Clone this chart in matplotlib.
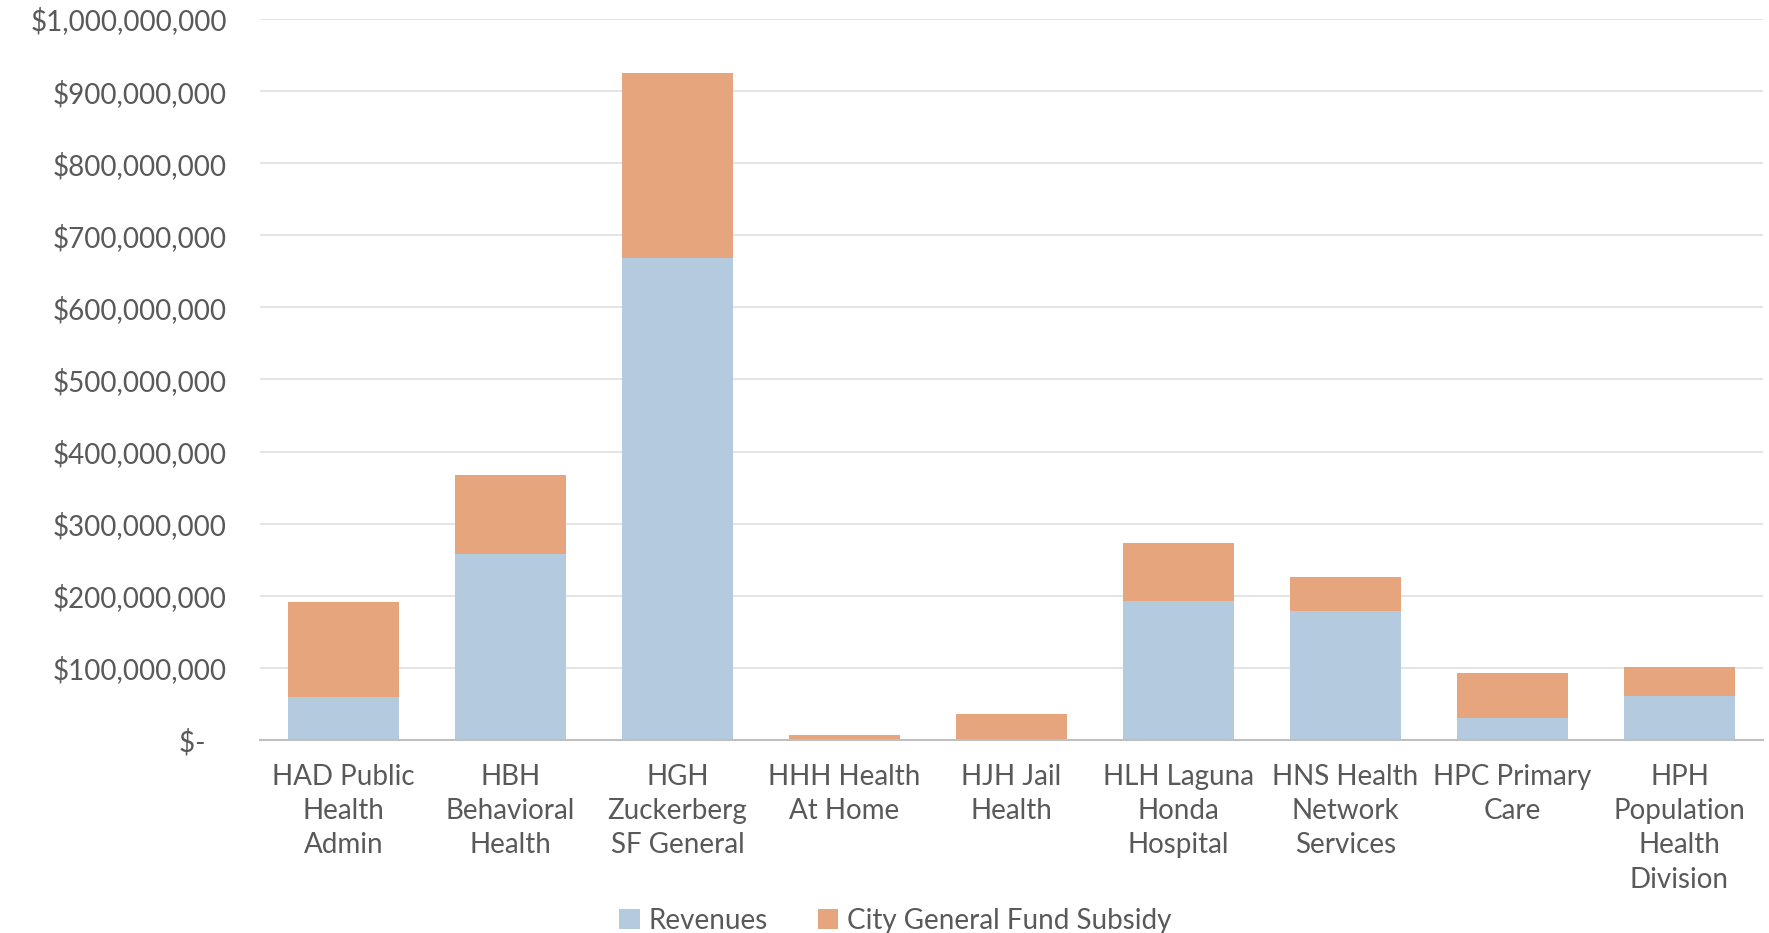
import matplotlib.pyplot as plt
from matplotlib.ticker import FuncFormatter

# Data
categories = ["HAD Public\nHealth\nAdmin", "HBH\nBehavioral\nHealth", "HGH\nZuckerberg\nSF General",
              "HHH Health\nAt Home", "HJH Jail\nHealth", "HLH Laguna\nHonda\nHospital",
              "HNS Health\nNetwork\nServices", "HPC Primary\nCare", "HPH\nPopulation\nHealth\nDivision"]
revenues = [59e6, 257.5e6, 668e6, 2e6, 0.5e6, 193e6, 178.5e6, 31e6, 60.5e6]
subsidy = [133e6, 110e6, 257e6, 5.5e6, 35e6, 80e6, 47.5e6, 62.5e6, 40.5e6]

BLUE = "#B4CBDF"
ORANGE = "#E6A57D"
GRAY = "#595959"

plt.rcParams['font.family'] = ['Lato', 'DejaVu Sans']

fig = plt.figure(figsize=(17.69, 9.33), dpi=100)
ax = fig.add_axes([0.147, 0.2069, 0.8496, 0.7727])

x = range(len(categories))
ax.bar(x, revenues, width=0.67, color=BLUE, label="Revenues", zorder=2)
ax.bar(x, subsidy, width=0.67, bottom=revenues, color=ORANGE,
       label="City General Fund Subsidy", zorder=2)

ax.set_ylim(0, 1e9)
ax.set_xlim(-0.5, len(categories) - 0.5)
ax.set_yticks([i * 1e8 for i in range(11)])


def fmt(v, pos):
    if v == 0:
        return "$-   "
    return "${:,.0f}".format(v)


ax.yaxis.set_major_formatter(FuncFormatter(fmt))
ax.set_xticks(list(x))
ax.set_xticklabels(categories, linespacing=1.4)

ax.tick_params(axis='both', length=0, labelsize=20, labelcolor=GRAY)
ax.tick_params(axis='y', pad=24)
ax.tick_params(axis='x', pad=17)

ax.grid(axis='y', color='#E3E3E3', linewidth=1.3, zorder=0)
for s in ['top', 'right', 'left']:
    ax.spines[s].set_visible(False)
ax.spines['bottom'].set_color('#BFBFBF')
ax.spines['bottom'].set_linewidth(1.5)

fig.legend(loc='center', bbox_to_anchor=(0.506, 0.013), ncol=2, frameon=False,
           fontsize=20, labelcolor=GRAY, handlelength=0.75, handleheight=0.75,
           handletextpad=0.3, columnspacing=1.8)

fig.savefig("out.png", dpi=100)
